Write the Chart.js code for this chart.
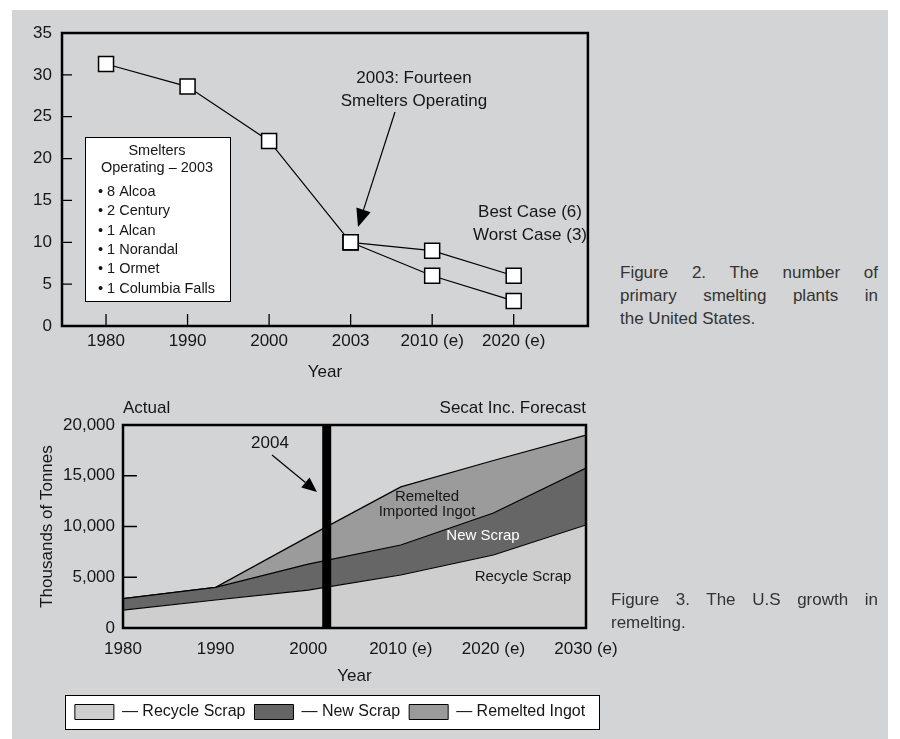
<!DOCTYPE html>
<html lang="en">
<head>
  <meta charset="UTF-8" />
  <title>Primary smelting and remelting</title>
  <script src="https://cdn.jsdelivr.net/npm/chart.js"></script>
  <style>
    body {
      margin: 0;
      background: #fff;
      font-family: "Liberation Sans", Arial, sans-serif;
    }

    .panel {
      position: absolute;
      left: 12px;
      top: 10px;
      width: 876px;
      height: 729px;
      background: #d3d4d6;
    }

    .chart-box { position: absolute; }
    #smeltersBox { left: 0; top: 0; width: 588px; height: 380px; }
    #remeltBox { left: -12px; top: 385px; width: 632px; height: 344px; }

    .caption {
      position: absolute;
      font-size: 17px;
      line-height: 23px;
      color: #333;
    }
    .caption div { text-align: justify; text-align-last: justify; }
    .caption div.last { text-align-last: left; }
    #cap2 { left: 608px; top: 251px; width: 258px; }
    #cap3 { left: 599px; top: 578px; width: 267px; }
  </style>
</head>
<body>
  <div class="panel">
    <div class="chart-box" id="smeltersBox"><canvas id="smeltersChart"></canvas></div>
    <div class="chart-box" id="remeltBox"><canvas id="remeltChart"></canvas></div>

    <div class="caption" id="cap2">
      <div>Figure 2. The number of</div>
      <div>primary smelting plants in</div>
      <div class="last">the United States.</div>
    </div>
    <div class="caption" id="cap3">
      <div>Figure 3. The U.S growth in</div>
      <div class="last">remelting.</div>
    </div>
  </div>

  <script>
    // Figure 2 - smelters
    const years = ['1980', '1990', '2000', '2003', '2010 (e)', '2020 (e)'];
    const actualPlants = [31.3, 28.6, 22.1, 10, null, null];
    const bestCase = [null, null, null, 10, 9, 6];
    const worstCase = [null, null, null, 10, 6, 3];
    const smeltersList = ['8 Alcoa', '2 Century', '1 Alcan', '1 Norandal', '1 Ormet', '1 Columbia Falls'];

    // Figure 3 - remelting (thousands of tonnes)
    const decades = [1980, 1990, 2000, 2010, 2020, 2030];
    const decadeLabels = ['1980', '1990', '2000', '2010 (e)', '2020 (e)', '2030 (e)'];
    const recycleScrap = [1770, 2760, 3740, 5220, 7190, 10150];
    const newScrap = [1130, 1240, 2560, 2960, 4140, 5610];
    const remeltedIngot = [0, 0, 2700, 5720, 5170, 3240];
    const dividerYear = 2002;

    const FONT = '"Liberation Sans", Arial, sans-serif';
    Chart.defaults.font.family = FONT;
    Chart.defaults.font.size = 17;
    Chart.defaults.color = '#161616';

    function toPoints(xs, ys) {
      return ys.map((y, i) => (y == null ? null : { x: xs[i], y })).filter(Boolean);
    }

    // box round the plot + short ticks pointing inwards
    const frame = {
      id: 'frame',
      afterDatasetsDraw(chart, args, o) {
        const { ctx, chartArea: a, scales } = chart;
        ctx.save();
        ctx.strokeStyle = '#000';
        ctx.lineWidth = 1.3;
        ctx.beginPath();
        if (o.xTick) {
          scales.x.ticks.forEach(t => {
            const px = scales.x.getPixelForValue(t.value);
            ctx.moveTo(px, a.bottom);
            ctx.lineTo(px, a.bottom - o.xTick);
          });
        }
        if (o.yTick) {
          scales.y.ticks.forEach(t => {
            if (t.value <= scales.y.min || t.value >= scales.y.max) return;
            const py = scales.y.getPixelForValue(t.value);
            ctx.moveTo(a.left, py);
            ctx.lineTo(a.left + o.yTick, py);
          });
        }
        ctx.stroke();
        ctx.lineWidth = o.border || 2.5;
        ctx.strokeRect(a.left, a.top, a.width, a.height);
        ctx.restore();
      }
    };

    // thick black line marking the forecast start
    const divider = {
      id: 'divider',
      afterDatasetsDraw(chart, args, o) {
        if (o.value == null) return;
        const { ctx, chartArea: a, scales } = chart;
        const px = scales.x.getPixelForValue(o.value);
        ctx.save();
        ctx.fillStyle = '#000';
        ctx.fillRect(px - o.width / 2, a.top, o.width, a.height);
        ctx.restore();
      }
    };

    // free text, arrows and boxes, placed relative to the plot area
    const notes = {
      id: 'notes',
      afterDatasetsDraw(chart, args, o) {
        const { ctx, chartArea: a } = chart;
        ctx.save();
        (o.items || []).forEach(it => {
          if (it.kind === 'box') {
            ctx.fillStyle = '#fff';
            ctx.strokeStyle = '#000';
            ctx.lineWidth = 1;
            ctx.fillRect(a.left + it.x, a.top + it.y, it.w, it.h);
            ctx.strokeRect(a.left + it.x + 0.5, a.top + it.y + 0.5, it.w, it.h);
          } else if (it.kind === 'arrow') {
            const x1 = a.left + it.x1, y1 = a.top + it.y1;
            const x2 = a.left + it.x2, y2 = a.top + it.y2;
            const ang = Math.atan2(y2 - y1, x2 - x1);
            const L = it.head || 16, W = (it.headW || 13) / 2;
            const bx = x2 - L * Math.cos(ang), by = y2 - L * Math.sin(ang);
            ctx.strokeStyle = '#000';
            ctx.fillStyle = '#000';
            ctx.lineWidth = 1.2;
            ctx.beginPath();
            ctx.moveTo(x1, y1);
            ctx.lineTo(bx, by);
            ctx.stroke();
            ctx.beginPath();
            ctx.moveTo(x2, y2);
            ctx.lineTo(bx + W * Math.sin(ang), by - W * Math.cos(ang));
            ctx.lineTo(bx - W * Math.sin(ang), by + W * Math.cos(ang));
            ctx.closePath();
            ctx.fill();
          } else {
            ctx.font = (it.size || 17) + 'px ' + FONT;
            ctx.fillStyle = it.color || '#161616';
            ctx.textAlign = it.align || 'center';
            ctx.textBaseline = 'middle';
            const x = it.fromRight ? a.right + it.x : a.left + it.x;
            ctx.fillText(it.text, x, a.top + it.y);
          }
        });
        ctx.restore();
      }
    };

    // white box behind the legend, legend nudged sideways
    const legendFrame = {
      id: 'legendFrame',
      afterLayout(chart, args, o) {
        const lg = chart.legend;
        lg.left += o.shift;
        lg.right += o.shift;
      },
      beforeDraw(chart, args, o) {
        const lg = chart.legend;
        const hb = lg.legendHitBoxes;
        if (!hb || !hb.length) return;
        const last = hb[hb.length - 1];
        const left = hb[0].left - o.padLeft;
        const right = last.left + last.width + o.padRight;
        const cy = hb[0].top + hb[0].height / 2;
        const { ctx } = chart;
        ctx.save();
        ctx.fillStyle = '#fff';
        ctx.strokeStyle = '#000';
        ctx.lineWidth = 1;
        ctx.fillRect(left, cy - o.half, right - left, o.half * 2);
        ctx.strokeRect(Math.round(left) + 0.5, Math.round(cy - o.half) + 0.5, Math.round(right - left), o.half * 2);
        ctx.restore();
      }
    };

    const squareLine = {
      borderColor: '#000',
      borderWidth: 1.2,
      pointStyle: 'rect',
      pointRadius: 10.6,
      pointBackgroundColor: '#fff',
      pointBorderColor: '#000',
      pointBorderWidth: 1.5,
      tension: 0,
      fill: false
    };

    const xIdx = years.map((_, i) => i);
    const smeltItems = [
      { text: '2003: Fourteen', x: 352, y: 45 },
      { text: 'Smelters Operating', x: 352, y: 68 },
      { kind: 'arrow', x1: 333, y1: 79, x2: 296, y2: 194, head: 18, headW: 15 },
      { text: 'Best Case (6)', x: 468, y: 179 },
      { text: 'Worst Case (3)', x: 468, y: 202 },
      { kind: 'box', x: 23, y: 104, w: 145, h: 164 },
      { text: 'Smelters', x: 95, y: 118, size: 14.5 },
      { text: 'Operating \u2013 2003', x: 95, y: 135, size: 14.5 }
    ];
    smeltersList.forEach((s, i) => {
      smeltItems.push({ text: '\u2022 ' + s, x: 36, y: 159 + i * 19.3, size: 14.5, align: 'left' });
    });

    new Chart(document.getElementById('smeltersChart'), {
      type: 'line',
      data: {
        datasets: [
          { label: 'Actual', data: toPoints(xIdx, actualPlants), ...squareLine },
          { label: 'Best Case', data: toPoints(xIdx, bestCase), ...squareLine },
          { label: 'Worst Case', data: toPoints(xIdx, worstCase), ...squareLine }
        ]
      },
      options: {
        responsive: true,
        maintainAspectRatio: false,
        animation: false,
        events: [],
        layout: { padding: { left: 0, top: 23, right: 7, bottom: 0 } },
        scales: {
          x: {
            type: 'linear',
            min: -0.54,
            max: 5.91,
            afterBuildTicks: s => { s.ticks = xIdx.map(v => ({ value: v })); },
            afterFit: s => { s.height = 64; },
            grid: { display: false, drawTicks: false },
            border: { display: false },
            ticks: { padding: 5, callback: v => years[v] },
            title: { display: true, text: 'Year', padding: { top: 0, bottom: 7 } }
          },
          y: {
            min: 0,
            max: 35,
            afterFit: s => { s.width = 50; },
            grid: { display: false, drawTicks: false },
            border: { display: false },
            ticks: { stepSize: 5, padding: 10 }
          }
        },
        plugins: {
          legend: { display: false },
          tooltip: { enabled: false },
          frame: { xTick: 12, yTick: 10, border: 2.5 },
          notes: { items: smeltItems }
        }
      },
      plugins: [notes, frame]
    });

    const areaStyle = { borderColor: '#000', borderWidth: 1.2, pointRadius: 0, tension: 0 };

    new Chart(document.getElementById('remeltChart'), {
      type: 'line',
      data: {
        datasets: [
          { label: 'Recycle Scrap', data: toPoints(decades, recycleScrap), backgroundColor: '#cecece', fill: 'origin', ...areaStyle },
          { label: 'New Scrap', data: toPoints(decades, newScrap), backgroundColor: '#666666', fill: '-1', ...areaStyle },
          { label: 'Remelted Ingot', data: toPoints(decades, remeltedIngot), backgroundColor: '#9b9b9b', fill: '-1', ...areaStyle }
        ]
      },
      options: {
        responsive: true,
        maintainAspectRatio: false,
        animation: false,
        events: [],
        layout: { padding: { left: 0, top: 30, right: 46, bottom: 9 } },
        scales: {
          x: {
            type: 'linear',
            min: 1980,
            max: 2030,
            afterBuildTicks: s => { s.ticks = decades.map(v => ({ value: v })); },
            afterFit: s => { s.height = 67; },
            grid: { display: false, drawTicks: false },
            border: { display: false },
            ticks: { padding: 11, callback: v => decadeLabels[decades.indexOf(v)] },
            title: { display: true, text: 'Year', padding: { top: 0, bottom: 8 } }
          },
          y: {
            stacked: true,
            min: 0,
            max: 20000,
            afterFit: s => { s.width = 123; },
            grid: { display: false, drawTicks: false },
            border: { display: false },
            ticks: { stepSize: 5000, padding: 8 },
            title: { display: true, text: 'Thousands of Tonnes', padding: { top: 37, bottom: 0 } }
          }
        },
        plugins: {
          legend: {
            position: 'bottom',
            labels: {
              font: { size: 16 },
              boxWidth: 39,
              boxHeight: 15,
              padding: 9,
              generateLabels: chart => Chart.defaults.plugins.legend.labels.generateLabels(chart)
                .map(l => ({ ...l, text: '\u2014 ' + l.text, lineWidth: 1, strokeStyle: '#000' }))
            }
          },
          tooltip: { enabled: false },
          legendFrame: { shift: 37, padLeft: 10, padRight: 14, half: 17 },
          divider: { value: dividerYear, width: 9 },
          frame: { yTick: 14, border: 2.5 },
          notes: {
            items: [
              { text: 'Actual', x: 0, y: -17, align: 'left' },
              { text: 'Secat Inc. Forecast', x: 0, y: -17, align: 'right', fromRight: true },
              { text: '2004', x: 147, y: 18 },
              { kind: 'arrow', x1: 149, y1: 30, x2: 194, y2: 67, head: 15, headW: 13 },
              { text: 'Remelted', x: 304, y: 72, size: 15 },
              { text: 'Imported Ingot', x: 304, y: 87, size: 15 },
              { text: 'New Scrap', x: 360, y: 111, size: 15, color: '#fff' },
              { text: 'Recycle Scrap', x: 400, y: 152, size: 15 }
            ]
          }
        }
      },
      plugins: [legendFrame, divider, notes, frame]
    });
  </script>
</body>
</html>
